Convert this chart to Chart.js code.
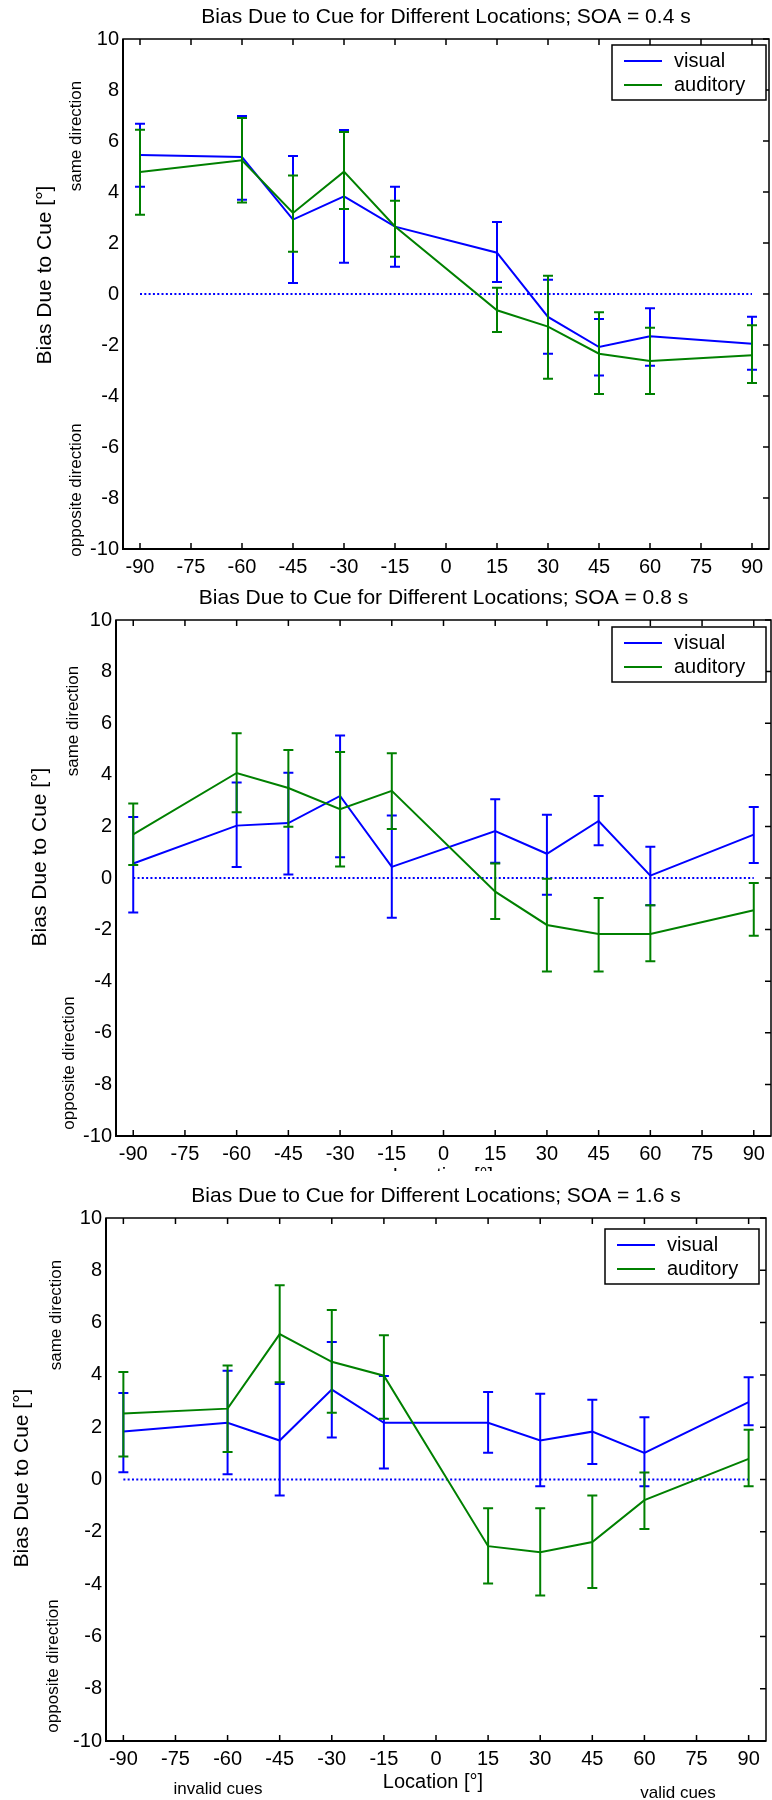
<!DOCTYPE html>
<html>
<head>
<meta charset="utf-8">
<script src="https://cdn.jsdelivr.net/npm/chart.js@4.4.1/dist/chart.umd.min.js"></script>
<style>
  html, body { margin: 0; padding: 0; background: #fff; }
  #wrap { position: relative; width: 772px; height: 1800px; overflow: hidden; }
  canvas { position: absolute; left: 0; }
</style>
</head>
<body>
<div id="wrap">
  <canvas id="soa04" width="772" height="585" style="top:0px"></canvas>
  <canvas id="soa08" width="772" height="586" style="top:585px"></canvas>
  <canvas id="soa16" width="772" height="629" style="top:1171px"></canvas>
</div>
<script>
// locations of the cues (deg)
const locations = [-90, -60, -45, -30, -15, 15, 30, 45, 60, 90];
const xTickValues = [-90, -75, -60, -45, -30, -15, 0, 15, 30, 45, 60, 75, 90];
const yTickValues = [-10, -8, -6, -4, -2, 0, 2, 4, 6, 8, 10];
const zeroLineX = [-90, 90];

// SOA = 0.4 s
const soa04VisualMean = [5.45, 5.37, 2.92, 3.83, 2.64, 1.62, -0.90, -2.08, -1.66, -1.95];
const soa04VisualLow = [4.21, 3.70, 0.43, 1.23, 1.07, 0.47, -2.34, -3.20, -2.81, -2.97];
const soa04VisualHigh = [6.68, 6.98, 5.41, 6.43, 4.21, 2.82, 0.56, -0.98, -0.56, -0.89];
const soa04AuditoryMean = [4.78, 5.24, 3.18, 4.80, 2.65, -0.64, -1.28, -2.34, -2.63, -2.40];
const soa04AuditoryLow = [3.11, 3.59, 1.66, 3.33, 1.46, -1.49, -3.32, -3.92, -3.92, -3.49];
const soa04AuditoryHigh = [6.44, 6.90, 4.65, 6.35, 3.66, 0.25, 0.72, -0.72, -1.32, -1.23];

// SOA = 0.8 s
const soa08VisualMean = [0.56, 2.03, 2.13, 3.18, 0.43, 1.82, 0.94, 2.21, 0.09, 1.68];
const soa08VisualLow = [-1.34, 0.43, 0.14, 0.80, -1.54, 0.59, -0.65, 1.27, -1.06, 0.58];
const soa08VisualHigh = [2.36, 3.70, 4.08, 5.52, 2.42, 3.05, 2.45, 3.18, 1.21, 2.75];
const soa08AuditoryMean = [1.69, 4.07, 3.49, 2.67, 3.38, -0.53, -1.82, -2.17, -2.17, -1.25];
const soa08AuditoryLow = [0.50, 2.55, 1.99, 0.45, 1.90, -1.59, -3.62, -3.62, -3.23, -2.24];
const soa08AuditoryHigh = [2.89, 5.61, 4.96, 4.88, 4.84, 0.56, -0.03, -0.78, -1.06, -0.19];

// SOA = 1.6 s
const soa16VisualMean = [1.84, 2.17, 1.49, 3.44, 2.17, 2.17, 1.49, 1.83, 1.02, 2.96];
const soa16VisualLow = [0.28, 0.20, -0.61, 1.61, 0.42, 1.02, -0.26, 0.59, -0.26, 2.07];
const soa16VisualHigh = [3.31, 4.16, 3.65, 5.26, 3.96, 3.35, 3.28, 3.05, 2.38, 3.91];
const soa16AuditoryMean = [2.52, 2.71, 5.56, 4.50, 3.97, -2.55, -2.78, -2.39, -0.79, 0.79];
const soa16AuditoryLow = [0.88, 1.05, 3.72, 2.55, 2.32, -3.98, -4.44, -4.15, -1.89, -0.26];
const soa16AuditoryHigh = [4.11, 4.36, 7.43, 6.48, 5.52, -1.10, -1.10, -0.61, 0.27, 1.90];

const FONT = "'Liberation Sans', Arial, sans-serif";
const BLUE = '#0000ff';
const GREEN = '#008000';

Chart.defaults.font.family = FONT;
Chart.defaults.color = '#000';

function font(size) { return size + 'px ' + FONT; }

function rotText(ctx, text, x, y, size) {
  ctx.save();
  ctx.translate(x, y);
  ctx.rotate(-Math.PI / 2);
  ctx.font = font(size);
  ctx.textAlign = 'center';
  ctx.textBaseline = 'middle';
  ctx.fillText(text, 0, 0);
  ctx.restore();
}

function panelDecor(p) {
  return {
    id: 'panelDecor',
    afterDatasetDraw(chart, args) {
      const ds = chart.data.datasets[args.index];
      if (!ds.errLow) return;
      const ctx = chart.ctx, xs = chart.scales.x, ys = chart.scales.y;
      ctx.save();
      ctx.strokeStyle = ds.borderColor;
      ctx.lineWidth = 2;
      ds.data.forEach((pt, i) => {
        const px = xs.getPixelForValue(pt.x);
        const lo = ys.getPixelForValue(ds.errLow[i]);
        const hi = ys.getPixelForValue(ds.errHigh[i]);
        ctx.beginPath();
        ctx.moveTo(px, lo); ctx.lineTo(px, hi);
        ctx.moveTo(px - 5, lo); ctx.lineTo(px + 5, lo);
        ctx.moveTo(px - 5, hi); ctx.lineTo(px + 5, hi);
        ctx.stroke();
      });
      ctx.restore();
    },
    afterDraw(chart) {
      const ctx = chart.ctx, a = chart.chartArea;
      const xs = chart.scales.x, ys = chart.scales.y;
      ctx.save();
      ctx.strokeStyle = '#000';
      ctx.lineWidth = 1.5;
      ctx.strokeRect(a.left, a.top, a.right - a.left, a.bottom - a.top);
      ctx.lineWidth = 2;
      ctx.beginPath();
      ctx.moveTo(a.left, a.top); ctx.lineTo(a.left, a.bottom); ctx.lineTo(a.right, a.bottom);
      ctx.stroke();

      // inward tick marks
      ctx.lineWidth = 1.5;
      ctx.beginPath();
      xTickValues.forEach(v => {
        const px = xs.getPixelForValue(v);
        ctx.moveTo(px, a.top); ctx.lineTo(px, a.top + 6);
        ctx.moveTo(px, a.bottom); ctx.lineTo(px, a.bottom - 6);
      });
      yTickValues.forEach(v => {
        const py = ys.getPixelForValue(v);
        ctx.moveTo(a.right, py); ctx.lineTo(a.right - 6, py);
      });
      ctx.stroke();

      // texts
      ctx.fillStyle = '#000';
      ctx.font = font(21);
      ctx.textAlign = 'center';
      ctx.textBaseline = 'middle';
      ctx.fillText(p.title, (a.left + a.right) / 2, a.top - 22);
      rotText(ctx, 'Bias Due to Cue [°]', p.yTitle[0], p.yTitle[1], 21);
      rotText(ctx, 'same direction', p.same[0], p.same[1], 17);
      rotText(ctx, 'opposite direction', p.opposite[0], p.opposite[1], 17);
      (p.extra || []).forEach(t => {
        ctx.font = font(t.size);
        ctx.textAlign = 'center';
        ctx.textBaseline = t.baseline || 'middle';
        ctx.fillText(t.text, t.x, t.y);
      });

      // legend
      const bw = 154, bh = 55;
      const bx = a.right - p.legend[0] - bw, by = a.top + p.legend[1];
      ctx.fillStyle = '#fff';
      ctx.fillRect(bx, by, bw, bh);
      ctx.strokeStyle = '#000';
      ctx.lineWidth = 1.5;
      ctx.strokeRect(bx, by, bw, bh);
      chart.data.datasets.filter(d => d.label).forEach((d, i) => {
        const ly = by + 16 + i * 24;
        ctx.strokeStyle = d.borderColor;
        ctx.lineWidth = 2;
        ctx.beginPath();
        ctx.moveTo(bx + 12, ly); ctx.lineTo(bx + 50, ly);
        ctx.stroke();
        ctx.fillStyle = '#000';
        ctx.font = font(20);
        ctx.textAlign = 'left';
        ctx.textBaseline = 'middle';
        ctx.fillText(d.label, bx + 62, ly);
      });
      ctx.restore();
    }
  };
}

function makePanel(id, p, visual, auditory) {
  const canvas = document.getElementById(id);
  const W = canvas.width, H = canvas.height;
  const series = (label, color, s, order) => ({
    label: label,
    data: locations.map((x, i) => ({ x: x, y: s[0][i] })),
    errLow: s[1],
    errHigh: s[2],
    borderColor: color,
    borderWidth: 2,
    pointRadius: 0,
    tension: 0,
    order: order
  });
  new Chart(canvas, {
    type: 'line',
    data: {
      datasets: [
        series('visual', BLUE, visual, 2),
        series('auditory', GREEN, auditory, 1),
        {
          data: zeroLineX.map(x => ({ x: x, y: 0 })),
          borderColor: BLUE,
          borderWidth: 2,
          borderDash: [2, 2.3],
          pointRadius: 0,
          order: 3
        }
      ]
    },
    options: {
      responsive: false,
      animation: false,
      devicePixelRatio: 1,
      layout: { padding: { left: 0, top: p.plot.top, right: W - p.plot.right, bottom: 0 } },
      plugins: {
        legend: { display: false },
        tooltip: { enabled: false },
        title: { display: false }
      },
      scales: {
        x: {
          type: 'linear',
          min: -95,
          max: 95,
          grid: { display: false, drawTicks: false },
          border: { display: false },
          afterBuildTicks: s => { s.ticks = xTickValues.map(v => ({ value: v })); },
          afterFit: s => { s.height = H - p.plot.bottom; },
          ticks: { autoSkip: false, maxRotation: 0, padding: 6, font: { size: 20 } }
        },
        y: {
          type: 'linear',
          min: -10,
          max: 10,
          grid: { display: false, drawTicks: false },
          border: { display: false },
          afterBuildTicks: s => { s.ticks = yTickValues.map(v => ({ value: v })); },
          afterFit: s => { s.width = p.plot.left; },
          ticks: { padding: 4, font: { size: 20 } }
        }
      }
    },
    plugins: [panelDecor(p)]
  });
}

makePanel('soa04', {
  title: 'Bias Due to Cue for Different Locations; SOA = 0.4 s',
  plot: { left: 123, top: 39, right: 769, bottom: 549 },
  yTitle: [45, 275], same: [76, 136], opposite: [76, 490],
  legend: [3, 6]
}, [soa04VisualMean, soa04VisualLow, soa04VisualHigh],
   [soa04AuditoryMean, soa04AuditoryLow, soa04AuditoryHigh]);

makePanel('soa08', {
  title: 'Bias Due to Cue for Different Locations; SOA = 0.8 s',
  plot: { left: 116, top: 35, right: 771, bottom: 551 },
  yTitle: [40, 272], same: [73, 136], opposite: [69, 478],
  legend: [5, 7],
  extra: [{ text: 'Location [°]', x: 443, y: 581, size: 20, baseline: 'top' }]
}, [soa08VisualMean, soa08VisualLow, soa08VisualHigh],
   [soa08AuditoryMean, soa08AuditoryLow, soa08AuditoryHigh]);

makePanel('soa16', {
  title: 'Bias Due to Cue for Different Locations; SOA = 1.6 s',
  plot: { left: 106, top: 47, right: 766, bottom: 570 },
  yTitle: [22, 307], same: [56, 144], opposite: [53, 495],
  legend: [7, 11],
  extra: [
    { text: 'Location [°]', x: 433, y: 611, size: 20 },
    { text: 'invalid cues', x: 218, y: 618, size: 17 },
    { text: 'valid cues', x: 678, y: 622, size: 17 }
  ]
}, [soa16VisualMean, soa16VisualLow, soa16VisualHigh],
   [soa16AuditoryMean, soa16AuditoryLow, soa16AuditoryHigh]);
</script>
</body>
</html>
